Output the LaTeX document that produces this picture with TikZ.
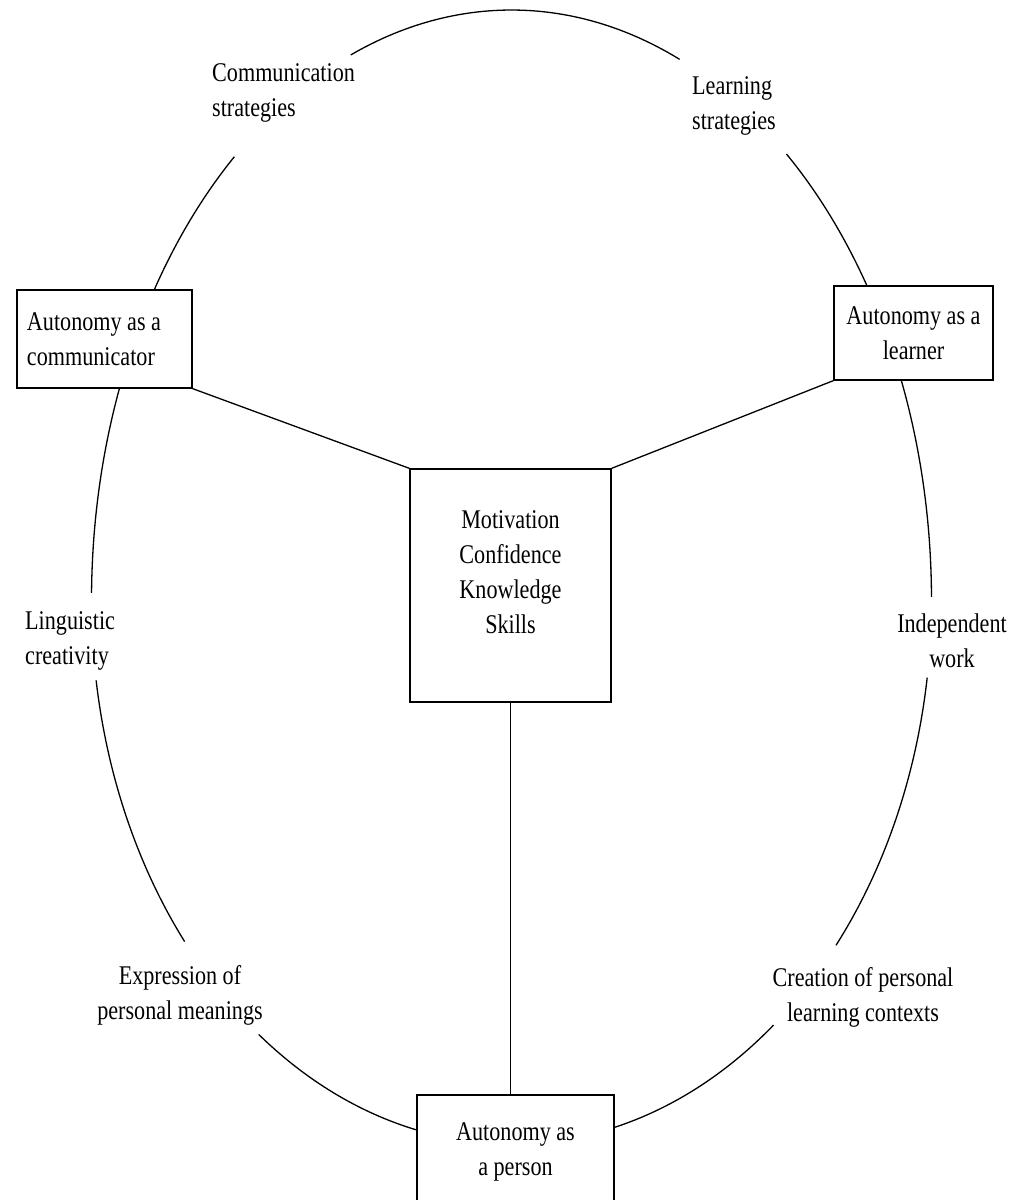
\documentclass[tikz,border=0pt]{standalone}
\usepackage{fontspec}
\setmainfont{Liberation Serif}[FakeStretch=0.82]
\begin{document}
\begin{tikzpicture}[x=1pt,y=1pt,
  txt/.style={font=\fontsize{27}{35}\selectfont},
  lbl/.style={txt, inner sep=0pt},
  box/.style={txt, draw, fill=white, line width=1.3pt, inner sep=0pt},
  ring/.style={line width=1.3pt},
  link/.style={line width=1.3pt}]
\fill[white] (0,0) rectangle (1023,1200);
\useasboundingbox (0,0) rectangle (1023,1200);
\coordinate (O) at (511.5,600);
% upper half of the ring
\draw[ring] (O) ++(66.4:420pt and 590pt) arc[start angle=66.4, end angle=112.5, x radius=420pt, y radius=590pt];
\draw[ring] (O) ++(131.3:420pt and 590pt) arc[start angle=131.3, end angle=179.3, x radius=420pt, y radius=590pt];
\draw[ring] (O) ++(0.3:420pt and 590pt) arc[start angle=0.3, end angle=49.1, x radius=420pt, y radius=590pt];
% lower half of the ring
\draw[ring] (O) ++(188.5:420pt and 544pt) arc[start angle=188.5, end angle=218.9, x radius=420pt, y radius=544pt];
\draw[ring] (O) ++(233:420pt and 544pt) arc[start angle=233, end angle=308.6, x radius=420pt, y radius=544pt];
\draw[ring] (O) ++(320.6:420pt and 544pt) arc[start angle=320.6, end angle=351.8, x radius=420pt, y radius=544pt];

% boxes
\node[box, minimum width=175pt, minimum height=98pt, text width=155pt, align=flush left] (comm) at (104.5,861) {Autonomy as a\\communicator};
\node[box, minimum width=159pt, minimum height=94pt, align=center] (learner) at (913.5,867) {Autonomy as a\\learner};
\node[box, minimum width=201pt, minimum height=233pt, align=center] (core) at (510.5,614.5) {Motivation\\Confidence\\Knowledge\\Skills\rule[-26pt]{0pt}{26pt}};
\node[box, minimum width=197pt, minimum height=113pt, align=center] (person) at (515.5,48.5) {Autonomy as\\a person};

% connectors
\draw[link] (comm.south east) -- (core.north west);
\draw[link] (core.north east) -- (learner.south west);
\draw[link] (core.south) -- (core.south |- person.north);

% labels on the ring
\node[lbl, align=left, anchor=base west] (commstr) at (212,1083) {Communication\\strategies};
\node[lbl, align=left, anchor=base west] (learnstr) at (692,1070) {Learning\\strategies};
\node[lbl, align=left, anchor=base west] (ling) at (25,535) {Linguistic\\creativity};
\node[lbl, align=center, anchor=base] (indep) at (952,532) {Independent\\work};
\node[lbl, align=center, anchor=base] (expr) at (180,180) {Expression of\\personal meanings};
\node[lbl, align=center, anchor=base] (creat) at (863,178) {Creation of personal\\learning contexts};
\end{tikzpicture}
\end{document}
